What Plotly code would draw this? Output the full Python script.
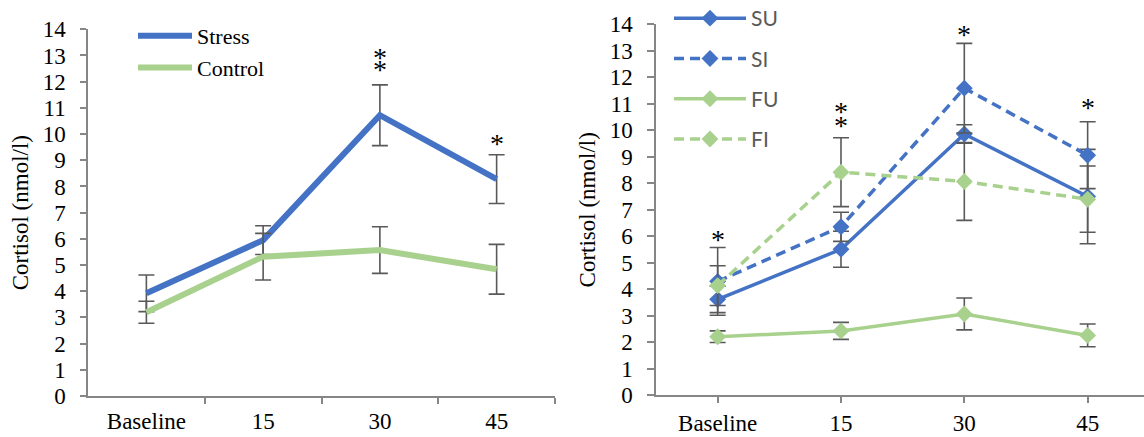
import plotly.graph_objects as go

categories = ["Baseline", "15", "30", "45"]

# Left panel
stress = [3.92, 5.95, 10.72, 8.28]
stress_err = [0.70, 0.55, 1.16, 0.93]
control = [3.20, 5.32, 5.57, 4.84]
control_err = [0.42, 0.89, 0.89, 0.95]

# Right panel
su = [3.62, 5.51, 9.86, 7.50]
su_err = [0.50, 0.68, 0.35, 1.78]
si = [4.30, 6.36, 11.59, 9.06]
si_err = [1.28, 0.55, 1.69, 1.26]
fu = [2.21, 2.43, 3.07, 2.26]
fu_err = [0.22, 0.32, 0.60, 0.43]
fi = [4.14, 8.42, 8.07, 7.40]
fi_err = [0.75, 1.30, 1.47, 1.25]

# significance asterisks (category index, y value)
left_sig_x = [2, 2, 3]
left_sig_y = [13.0, 12.55, 9.7]
right_sig_x = [0, 1, 1, 2, 3]
right_sig_y = [5.96, 10.77, 10.26, 13.7, 10.92]

BLUE = "#4472C4"
GREEN = "#A9D18E"
ERR = "#595959"
AX = "#868686"
SERIF = "Liberation Serif"

pos = list(range(len(categories)))

fig = go.Figure()

def err(vals):
    return dict(type="data", array=vals, visible=True, color=ERR, thickness=1.6, width=8)

fig.add_trace(go.Scatter(x=pos, y=stress, mode="lines", name="Stress",
                         line=dict(color=BLUE, width=6), error_y=err(stress_err),
                         xaxis="x", yaxis="y", legend="legend"))
fig.add_trace(go.Scatter(x=pos, y=control, mode="lines", name="Control",
                         line=dict(color=GREEN, width=6), error_y=err(control_err),
                         xaxis="x", yaxis="y", legend="legend"))

right_series = [
    ("SU", su, su_err, BLUE, "solid"),
    ("SI", si, si_err, BLUE, "10px,6px"),
    ("FU", fu, fu_err, GREEN, "solid"),
    ("FI", fi, fi_err, GREEN, "10px,6px"),
]
for name, vals, e, col, dash in right_series:
    fig.add_trace(go.Scatter(x=pos, y=vals, mode="lines+markers", name=name,
                             line=dict(color=col, width=3.5, dash=dash),
                             marker=dict(symbol="diamond", size=13, color=col),
                             error_y=err(e), xaxis="x2", yaxis="y2",
                             legend="legend2", legendgroup=name))

annotations = []
for xi, yi in zip(left_sig_x, left_sig_y):
    annotations.append(dict(x=xi, y=yi, xref="x", yref="y", text="*", showarrow=False,
                            font=dict(family=SERIF, size=28, color="#000000"),
                            yanchor="middle", yshift=-2))
for xi, yi in zip(right_sig_x, right_sig_y):
    annotations.append(dict(x=xi, y=yi, xref="x2", yref="y2", text="*", showarrow=False,
                            font=dict(family=SERIF, size=28, color="#000000"),
                            yanchor="middle", yshift=-2))

W, H = 1144, 437
axis_common = dict(showline=True, linecolor=AX, linewidth=1.5, showgrid=False, zeroline=False,
                   automargin=False,
                   tickfont=dict(family=SERIF, size=23, color="#000000"))
title_font = dict(family=SERIF, size=23, color="#000000")

fig.update_layout(
    template="none",
    width=W, height=H, margin=dict(l=0, r=0, t=0, b=0, autoexpand=False),
    paper_bgcolor="white", plot_bgcolor="white",
    showlegend=True,
    xaxis=dict(domain=[88 / W, 555 / W], range=[-0.5, 3.5], tickmode="array",
               tickvals=pos, ticktext=categories, ticks="", anchor="y",
               ticklabelstandoff=4,
               minor=dict(tickmode="array", tickvals=[0.5, 1.5, 2.5, 3.5], ticks="outside",
                          ticklen=6, tickcolor=AX, tickwidth=1.5),
               **axis_common),
    yaxis=dict(domain=[41 / H, (H - 29.3) / H], range=[0, 14], dtick=1, ticks="outside",
               ticklen=6, tickcolor=AX, tickwidth=1.5, anchor="x", ticklabelstandoff=10,
               title=dict(text="Cortisol (nmol/l)", font=title_font, standoff=8),
               **axis_common),
    xaxis2=dict(domain=[656 / W, 1.0], range=[-0.5, 3.457], tickmode="array",
                tickvals=pos, ticktext=categories, ticks="outside", ticklen=6,
                tickcolor=AX, tickwidth=1.5, anchor="y2", ticklabelstandoff=0, **axis_common),
    yaxis2=dict(domain=[(H - 395.3) / H, (H - 24.3) / H], range=[0, 14], dtick=1, ticks="outside",
                ticklen=7, tickcolor=AX, tickwidth=1.5, anchor="x2", ticklabelstandoff=10,
                title=dict(text="Cortisol (nmol/l)", font=title_font, standoff=8),
                **axis_common),
    legend=dict(x=133 / W, y=1 - 15 / H, xanchor="left", yanchor="top", itemwidth=54,
                bgcolor="rgba(0,0,0,0)", font=dict(family=SERIF, size=22, color="#000000")),
    legend2=dict(x=669 / W, y=1 + 2 / H, xanchor="left", yanchor="top", itemwidth=72,
                 tracegroupgap=10, bgcolor="rgba(0,0,0,0)",
                 font=dict(family="Lato", size=21, color="#595959")),
    annotations=annotations,
)
fig.update_yaxes(title_font=title_font)

fig.write_html("out.html")
